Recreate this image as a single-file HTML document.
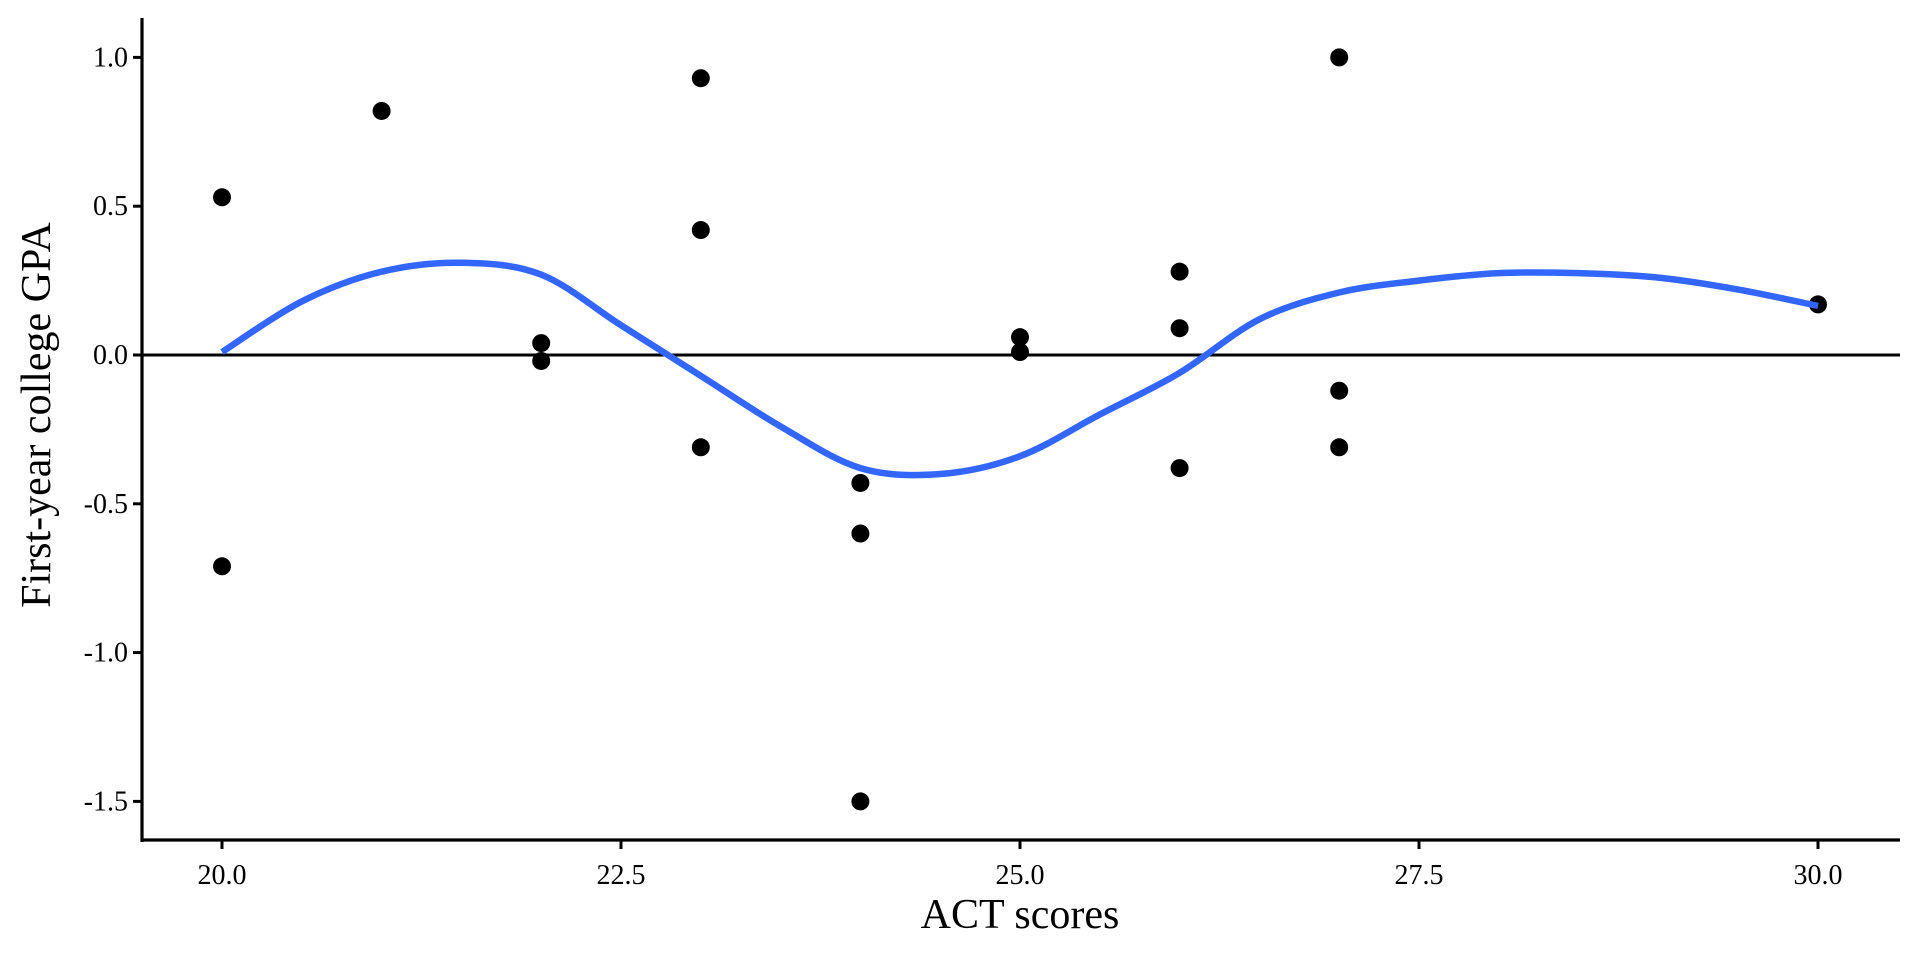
<!DOCTYPE html>
<html><head><meta charset="utf-8"><style>
html,body{margin:0;padding:0;background:#fff;}
svg{display:block;font-family:"Liberation Serif",serif;}
</style></head><body>
<svg id="chart" width="1920" height="960" viewBox="0 0 1920 960" xmlns="http://www.w3.org/2000/svg"></svg>
<script>
const xs=[20,20,21,22,22,23,23,23,24,24,24,25,25,26,26,26,27,27,27,30];
const ys=[0.53,-0.71,0.82,0.04,-0.02,0.93,0.42,-0.31,-0.43,-0.60,-1.50,0.06,0.01,0.28,0.09,-0.38,1.0,-0.12,-0.31,0.17];
const smoothX=[20,20.5,21,21.5,22,22.5,23,23.5,24,24.5,25,25.5,26,26.5,27,27.5,28,28.5,29,29.5,30];
const smoothY=[0.01,0.18,0.28,0.31,0.27,0.10,-0.07,-0.24,-0.38,-0.40,-0.34,-0.20,-0.06,0.12,0.21,0.25,0.275,0.275,0.26,0.22,0.165];
const xTicks=[20,22.5,25,27.5,30];
const xTickLabels=["20.0","22.5","25.0","27.5","30.0"];
const yTicks=[1,0.5,0,-0.5,-1,-1.5];
const yTickLabels=["1.0","0.5","0.0","-0.5","-1.0","-1.5"];
const sx=v=>222+(v-20)*(1596/10);
const sy=v=>355-v*297.6;
const svg=document.getElementById('chart');
const NS="http://www.w3.org/2000/svg";
function mk(t,a){const e=document.createElementNS(NS,t);for(const k in a)e.setAttribute(k,a[k]);svg.appendChild(e);return e;}
let e;
e=mk('line',{x1:142,y1:18,x2:142,y2:842,stroke:'#000','stroke-width':3.2});


e=mk('line',{x1:140.5,y1:840,x2:1900,y2:840,stroke:'#000','stroke-width':3.2});


e=mk('line',{x1:142,y1:sy(0),x2:1900,y2:sy(0),stroke:'#000','stroke-width':3});


xTicks.forEach((v,i)=>{
 e=mk('line',{x1:sx(v),y1:840,x2:sx(v),y2:849,stroke:'#000','stroke-width':3});
 
 
 e=mk('text',{x:sx(v),y:884,'text-anchor':'middle','font-size':28,fill:'#000'});
 e.textContent=xTickLabels[i];
 
 
});
yTicks.forEach((v,i)=>{
 e=mk('line',{x1:133,y1:sy(v),x2:142,y2:sy(v),stroke:'#000','stroke-width':3});
 
 
 e=mk('text',{x:128,y:sy(v)+9,'text-anchor':'end','font-size':28,fill:'#000'});
 e.textContent=yTickLabels[i];
 
 
});
ys.forEach((v,i)=>{
 e=mk('circle',{cx:sx(xs[i]),cy:sy(v),r:9,fill:'#000'});
 
 
});
const P=smoothX.map((x,i)=>[sx(x),sy(smoothY[i])]);
let d='M'+P[0][0]+','+P[0][1];
for(let i=0;i<P.length-1;i++){
 const p0=P[i-1]||P[i],p1=P[i],p2=P[i+1],p3=P[i+2]||P[i+1];
 const c1=[p1[0]+(p2[0]-p0[0])/6,p1[1]+(p2[1]-p0[1])/6];
 const c2=[p2[0]-(p3[0]-p1[0])/6,p2[1]-(p3[1]-p1[1])/6];
 d+=` C${c1[0]},${c1[1]} ${c2[0]},${c2[1]} ${p2[0]},${p2[1]}`;
}
e=mk('path',{d:d,fill:'none',stroke:'#3366FF','stroke-width':6.5});


e=mk('text',{x:1020,y:928,'text-anchor':'middle','font-size':42,fill:'#000'});
e.textContent='ACT scores';


e=mk('text',{x:0,y:0,'text-anchor':'middle','font-size':42,fill:'#000',transform:'translate(50,415) rotate(-90)'});
e.textContent='First-year college GPA';


</script>
</body></html>
